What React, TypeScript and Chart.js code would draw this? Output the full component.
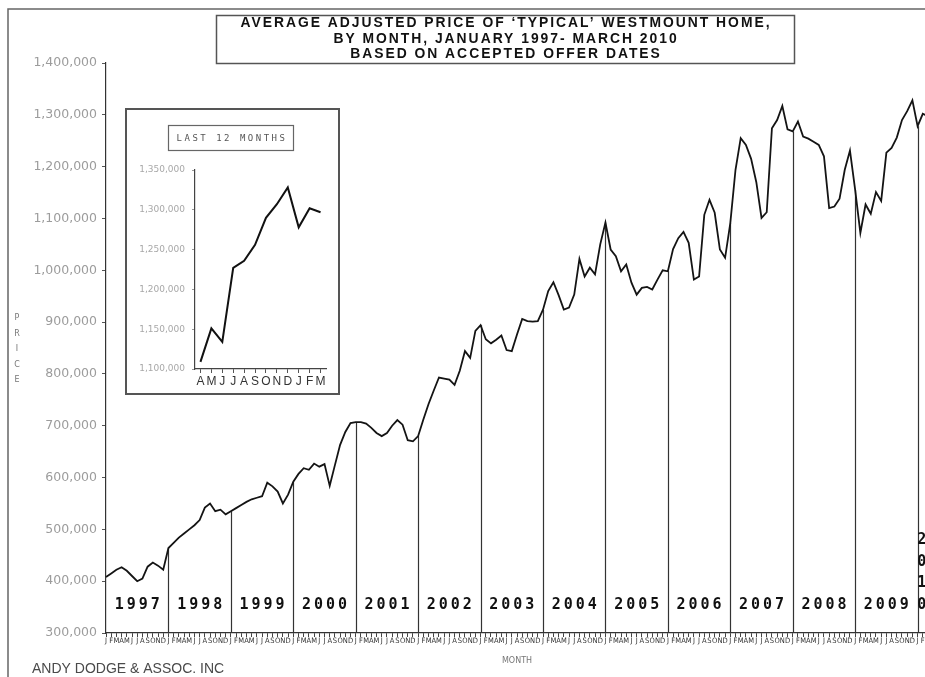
import React, { useEffect, useRef } from "react";
import { Chart, registerables } from "chart.js";

Chart.register(...registerables);

// ---------- data ----------
const TITLE_LINES = [
  "AVERAGE ADJUSTED PRICE OF \u2018TYPICAL\u2019 WESTMOUNT HOME,",
  "BY MONTH, JANUARY 1997- MARCH 2010",
  "BASED ON ACCEPTED OFFER DATES",
];
const FOOTER = "ANDY DODGE & ASSOC. INC";
const X_TITLE = "MONTH";
const Y_TITLE = "PRICE";
const INSET_TITLE = "LAST 12 MONTHS";

const MONTH_LETTERS = ["J", "F", "M", "A", "M", "J", "J", "A", "S", "O", "N", "D"];
const YEARS = ["1997", "1998", "1999", "2000", "2001", "2002", "2003", "2004", "2005", "2006", "2007", "2008", "2009", "2010"];

const P1997 = [408000, 415000, 422000, 427000, 420000, 410000, 400000, 405000, 428000, 436000, 430000, 422000];
const P1998 = [464000, 474000, 484000, 492000, 500000, 508000, 518000, 542000, 550000, 535000, 538000, 529000];
const P1999 = [535000, 541000, 547000, 553000, 558000, 561000, 564000, 590000, 583000, 573000, 550000, 567000];
const P2000 = [592000, 607000, 618000, 615000, 627000, 621000, 626000, 584000, 624000, 663000, 688000, 705000];
const P2001 = [707000, 707000, 704000, 696000, 686000, 680000, 686000, 700000, 711000, 702000, 672000, 670000];
const P2002 = [680000, 712000, 742000, 768000, 793000, 791000, 789000, 779000, 806000, 844000, 831000, 883000];
const P2003 = [894000, 867000, 859000, 866000, 874000, 846000, 844000, 876000, 906000, 902000, 901000, 902000];
const P2004 = [924000, 960000, 977000, 952000, 924000, 928000, 953000, 1022000, 988000, 1005000, 992000, 1050000];
const P2005 = [1092000, 1040000, 1027000, 998000, 1011000, 976000, 953000, 966000, 968000, 963000, 982000, 1000000];
const P2006 = [998000, 1041000, 1062000, 1074000, 1053000, 982000, 988000, 1107000, 1136000, 1111000, 1040000, 1024000];
const P2007 = [1091000, 1194000, 1255000, 1242000, 1215000, 1170000, 1101000, 1112000, 1274000, 1290000, 1317000, 1272000];
const P2008 = [1268000, 1287000, 1258000, 1254000, 1248000, 1242000, 1220000, 1120000, 1123000, 1138000, 1194000, 1231000];
const P2009 = [1155000, 1072000, 1127000, 1109000, 1151000, 1134000, 1227000, 1236000, 1256000, 1290000, 1307000, 1328000];
const P2010 = [1278000, 1302000, 1297000];

const INSET_MONTHS = ["A", "M", "J", "J", "A", "S", "O", "N", "D", "J", "F", "M"];

const Y_MIN = 300000;
const Y_MAX = 1400000;
const Y_STEP = 100000;
const INSET_Y_MIN = 1100000;
const INSET_Y_MAX = 1350000;
const INSET_Y_STEP = 50000;

// ---------- derived ----------
const SERIES_BY_YEAR = [P1997, P1998, P1999, P2000, P2001, P2002, P2003, P2004, P2005, P2006, P2007, P2008, P2009, P2010];
const MAIN_LABELS = SERIES_BY_YEAR.flatMap((arr) => arr.map((_, m) => MONTH_LETTERS[m]));
const MAIN_VALUES = SERIES_BY_YEAR.flat();
const INSET_VALUES = MAIN_VALUES.slice(-12);

const fmt = (v: any) => Number(v).toLocaleString("en-US");

const mainDecor = {
  id: "mainDecor",
  beforeDraw(chart: any) {
    const ctx = chart.ctx;
    ctx.save();
    ctx.fillStyle = "#ffffff";
    ctx.fillRect(0, 0, chart.width, chart.height);
    ctx.restore();
  },
  beforeDatasetsDraw(chart: any) {
    const ctx = chart.ctx;
    const xs = chart.scales.x;
    const ys = chart.scales.y;
    const bottom = chart.chartArea.bottom;
    ctx.save();
    ctx.strokeStyle = "#333";
    ctx.lineWidth = 1.2;
    let idx = 0;
    SERIES_BY_YEAR.forEach((arr, k) => {
      if (k > 0) {
        const x = Math.round(xs.getPixelForValue(idx)) + 0.5;
        const y = ys.getPixelForValue(MAIN_VALUES[idx]);
        ctx.beginPath();
        ctx.moveTo(x, y);
        ctx.lineTo(x, bottom);
        ctx.stroke();
      }
      idx += arr.length;
    });
    ctx.restore();
  },
  afterDraw(chart: any) {
    const ctx = chart.ctx;
    const xs = chart.scales.x;
    ctx.save();

    // page frame
    ctx.strokeStyle = "#666";
    ctx.lineWidth = 1.5;
    ctx.beginPath();
    ctx.moveTo(8, 677);
    ctx.lineTo(8, 9);
    ctx.lineTo(chart.width, 9);
    ctx.stroke();

    // title box
    ctx.strokeStyle = "#555";
    ctx.lineWidth = 1.5;
    ctx.strokeRect(216.5, 15.5, 578, 48);
    ctx.fillStyle = "#111";
    ctx.font = "bold 14px 'Liberation Sans', Arial, sans-serif";
    ctx.textAlign = "center";
    ctx.textBaseline = "middle";
    (ctx as any).letterSpacing = "2px";
    const w0 = ctx.measureText(TITLE_LINES[0]).width;
    const sx = 531 / w0;
    const tys = [23.5, 39.5, 54];
    TITLE_LINES.forEach((t, i) => {
      ctx.save();
      ctx.translate(506, tys[i]);
      ctx.scale(sx, 1);
      ctx.fillText(t, 0, 0);
      ctx.restore();
    });
    (ctx as any).letterSpacing = "0px";

    // year labels
    ctx.font = "bold 15px 'DejaVu Sans Mono', monospace";
    ctx.fillStyle = "#111";
    let idx = 0;
    SERIES_BY_YEAR.forEach((arr, k) => {
      const label = YEARS[k];
      if (arr.length === 12) {
        const cx = xs.getPixelForValue(idx + 6);
        for (let c = 0; c < 4; c++) {
          ctx.fillText(label[c], cx + (c - 1.5) * 12, 605);
        }
      } else {
        const cx = xs.getPixelForValue(idx + (arr.length - 1) / 2) - 1;
        for (let c = 0; c < 4; c++) {
          ctx.fillText(label[c], cx, 605 - (3 - c) * 21.5);
        }
      }
      idx += arr.length;
    });

    // y title stacked
    ctx.font = "8px 'DejaVu Sans', sans-serif";
    ctx.fillStyle = "#777";
    Y_TITLE.split("").forEach((ch, i) => {
      ctx.fillText(ch, 17, 318 + i * 15.5);
    });

    // footer
    ctx.textAlign = "left";
    ctx.font = "14px 'Liberation Sans', Arial, sans-serif";
    ctx.fillStyle = "#4a4a4a";
    ctx.fillText(FOOTER, 32, 669);
    ctx.restore();
  },
};

const insetDecor = {
  id: "insetDecor",
  beforeDraw(chart: any) {
    const ctx = chart.ctx;
    ctx.save();
    ctx.fillStyle = "#ffffff";
    ctx.fillRect(0, 0, chart.width, chart.height);
    ctx.restore();
  },
  afterDraw(chart: any) {
    const ctx = chart.ctx;
    ctx.save();
    ctx.strokeStyle = "#555";
    ctx.lineWidth = 2;
    ctx.strokeRect(1, 1, chart.width - 2, chart.height - 2);
    ctx.lineWidth = 1.2;
    ctx.strokeStyle = "#666";
    ctx.strokeRect(43.5, 17.5, 125, 25);
    ctx.fillStyle = "#555";
    ctx.font = "9px 'DejaVu Sans Mono', monospace";
    ctx.textAlign = "center";
    ctx.textBaseline = "middle";
    (ctx as any).letterSpacing = "2.5px";
    ctx.fillText(INSET_TITLE, 107, 30.5);
    (ctx as any).letterSpacing = "0px";
    ctx.restore();
  },
};

export default function App() {
  const mainRef = useRef<HTMLCanvasElement>(null);
  const insetRef = useRef<HTMLCanvasElement>(null);

  useEffect(() => {
    const main = new Chart(mainRef.current as HTMLCanvasElement, {
      type: "line",
      data: {
        labels: MAIN_LABELS,
        datasets: [
          {
            data: MAIN_VALUES,
            borderColor: "#141414",
            borderWidth: 1.8,
            pointRadius: 0,
            tension: 0,
            fill: false,
          },
        ],
      },
      options: {
        animation: false,
        responsive: false,
        events: [],
        layout: { padding: { left: 0, right: 32, top: 63, bottom: 0 } },
        plugins: { legend: { display: false }, tooltip: { enabled: false } },
        scales: {
          x: {
            type: "category",
            offset: false,
            grid: { display: true, drawOnChartArea: false, drawTicks: true, tickLength: 4, color: "#444" },
            border: { display: true, color: "#333", width: 1.2 },
            ticks: {
              autoSkip: false,
              maxRotation: 0,
              minRotation: 0,
              padding: 0,
              font: { family: "'DejaVu Sans Condensed', 'DejaVu Sans', sans-serif", size: 7.5 },
              color: "#333",
            },
            title: {
              display: true,
              text: X_TITLE,
              font: { family: "'DejaVu Sans', sans-serif", size: 8 },
              color: "#777",
              padding: { top: 0, bottom: 11 },
            },
            afterFit: (s: any) => {
              s.height = 44;
            },
          },
          y: {
            min: Y_MIN,
            max: Y_MAX,
            ticks: {
              stepSize: Y_STEP,
              padding: 5,
              font: { family: "'DejaVu Sans', sans-serif", size: 12.5 },
              color: "#9c9c9c",
              callback: fmt,
            },
            grid: { drawOnChartArea: false, tickLength: 4, color: "#555" },
            border: { color: "#333", width: 1.2 },
            afterFit: (s: any) => {
              s.width = 106;
            },
          },
        },
      },
      plugins: [mainDecor],
    } as any);

    const inset = new Chart(insetRef.current as HTMLCanvasElement, {
      type: "line",
      data: {
        labels: INSET_MONTHS,
        datasets: [
          {
            data: INSET_VALUES,
            borderColor: "#111",
            borderWidth: 2,
            pointRadius: 0,
            tension: 0,
            fill: false,
          },
        ],
      },
      options: {
        animation: false,
        responsive: false,
        events: [],
        layout: { padding: { left: 0, right: 14, top: 62, bottom: 0 } },
        plugins: { legend: { display: false }, tooltip: { enabled: false } },
        scales: {
          x: {
            type: "category",
            offset: true,
            grid: { display: true, drawOnChartArea: false, tickLength: 4, color: "#555", offset: false },
            border: { color: "#444", width: 1.2 },
            ticks: {
              autoSkip: false,
              maxRotation: 0,
              minRotation: 0,
              padding: 1,
              font: { family: "'Liberation Sans', Arial, sans-serif", size: 12 },
              color: "#333",
            },
            afterFit: (s: any) => {
              s.height = 26;
            },
          },
          y: {
            min: INSET_Y_MIN,
            max: INSET_Y_MAX,
            ticks: {
              stepSize: INSET_Y_STEP,
              padding: 7,
              font: { family: "'DejaVu Sans', sans-serif", size: 9 },
              color: "#a8a8a8",
              callback: fmt,
            },
            grid: { drawOnChartArea: false, tickLength: 3, color: "#999" },
            border: { color: "#444", width: 1.2 },
            afterFit: (s: any) => {
              s.width = 70;
            },
          },
        },
      },
      plugins: [insetDecor],
    } as any);

    return () => {
      main.destroy();
      inset.destroy();
    };
  }, []);

  return (
    <div
      style={{
        position: "fixed",
        left: 0,
        top: 0,
        width: 925,
        height: 677,
        overflow: "hidden",
        background: "#ffffff",
      }}
    >
      <canvas
        ref={mainRef}
        width={960}
        height={677}
        style={{ position: "absolute", left: 0, top: 0, width: 960, height: 677 }}
      />
      <canvas
        ref={insetRef}
        width={215}
        height={287}
        style={{ position: "absolute", left: 125, top: 108, width: 215, height: 287 }}
      />
    </div>
  );
}
